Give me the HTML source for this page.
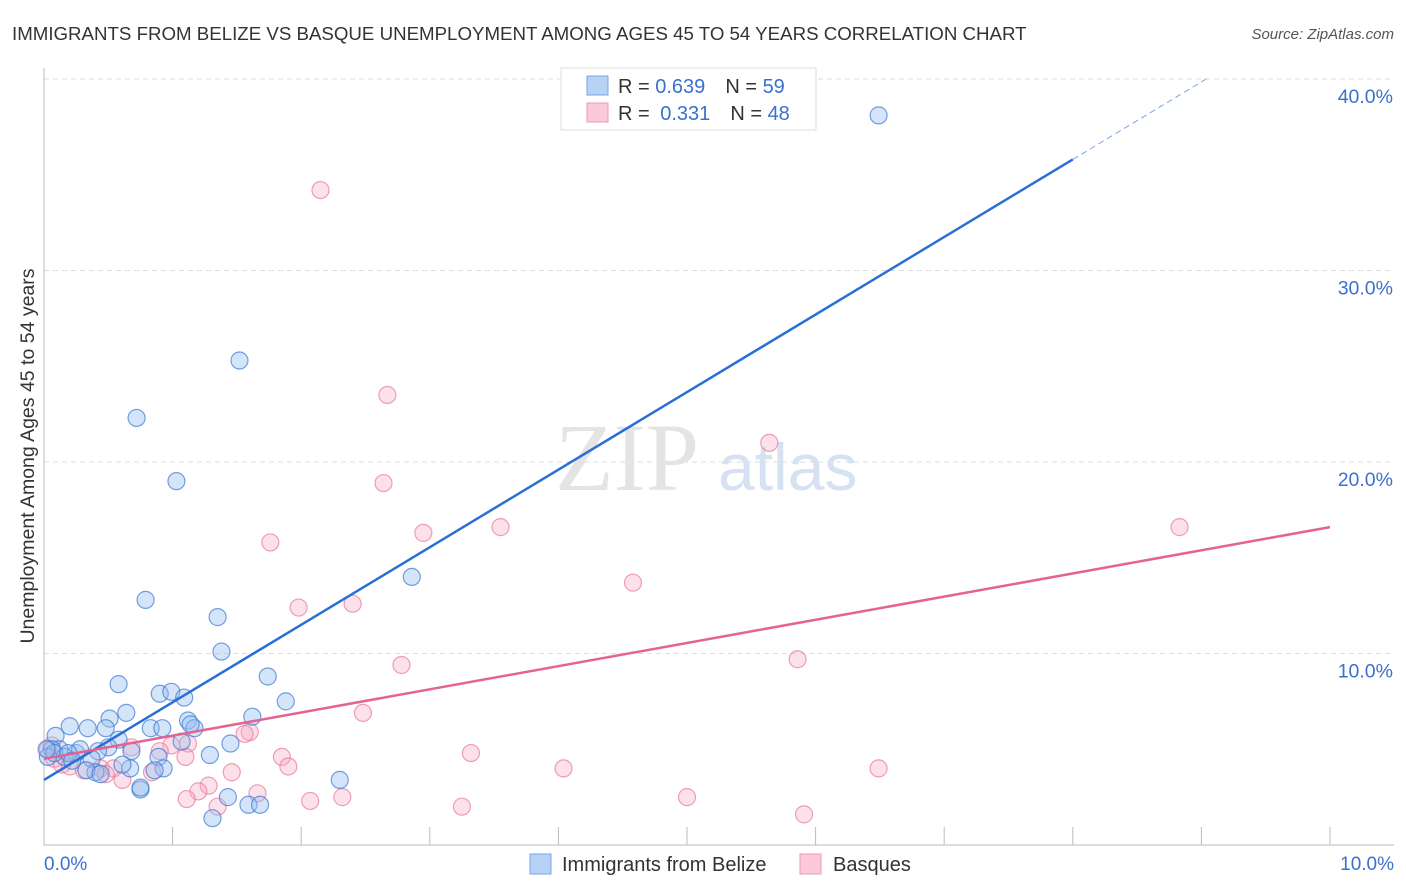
<!DOCTYPE html>
<html><head><meta charset="utf-8"><style>
body{margin:0;background:#fff;font-family:"Liberation Sans",sans-serif}
svg{display:block}
</style></head><body>
<svg id="chart" width="1406" height="892">
<text x="12" y="40" font-size="18.7" fill="#333">IMMIGRANTS FROM BELIZE VS BASQUE UNEMPLOYMENT AMONG AGES 45 TO 54 YEARS CORRELATION CHART</text>
<text x="1394" y="39" font-size="15" fill="#555" font-style="italic" text-anchor="end">Source: ZipAtlas.com</text>
<g id="grid"></g>
<text x="555" y="490" font-size="96" fill="#e4e4e4" font-family="Liberation Serif,serif">ZIP</text>
<text x="718" y="490" font-size="66" fill="#d6e2f2">atlas</text>
<g id="pts"></g>
<g id="lines"></g>
<text x="34" y="456" font-size="19.5" fill="#333" text-anchor="middle" transform="rotate(-90 34 456)">Unemployment Among Ages 45 to 54 years</text>
<text x="44" y="870" font-size="19" fill="#3a70d0">0.0%</text>
<text x="1394" y="870" font-size="19" fill="#3a70d0" text-anchor="end">10.0%</text>
<g>
<rect x="561" y="68" width="255" height="62" fill="#fff" stroke="#ddd"/>
<rect x="587" y="76" width="21" height="19" fill="#b8d2f5" stroke="#7aa5e6"/>
<rect x="587" y="103" width="21" height="19" fill="#fbc9d8" stroke="#ef98b4"/>
<text x="618" y="93" font-size="20" fill="#333">R = <tspan fill="#3a70d0">0.639</tspan><tspan dx="20">N = </tspan><tspan fill="#3a70d0">59</tspan></text>
<text x="618" y="120" font-size="20" fill="#333">R = <tspan fill="#3a70d0" dx="5">0.331</tspan><tspan dx="20">N = </tspan><tspan fill="#3a70d0">48</tspan></text>
</g>
<g>
<rect x="530" y="854" width="21" height="20" fill="#b8d2f5" stroke="#7aa5e6"/>
<text x="562" y="871" font-size="20" fill="#333">Immigrants from Belize</text>
<rect x="800" y="854" width="21" height="20" fill="#fbc9d8" stroke="#ef98b4"/>
<text x="833" y="871" font-size="20" fill="#333">Basques</text>
</g>
</svg>
<script>
const yTicks=[10,20,30,40];
const blueX=[64.9,15.2,7.2,10.3,28.6,7.9,13.5,13.8,17.4,5.8,18.8,9.0,9.9,10.9,6.4,5.1,11.2,11.7,16.2,2.0,3.4,4.8,8.3,9.2,0.9,5.8,14.5,10.7,5.0,4.2,6.8,1.2,0.6,12.9,8.9,2.5,3.7,1.6,0.3,6.7,9.3,8.6,4.0,3.3,4.4,23.0,7.5,14.3,15.9,16.8,13.1,0.8,2.8,1.9,7.5,2.2,0.2,6.1,11.4];
const blueY=[38.1,25.3,22.3,19.0,14.0,12.8,11.9,10.1,8.8,8.4,7.5,7.9,8.0,7.7,6.9,6.6,6.5,6.1,6.7,6.2,6.1,6.1,6.1,6.1,5.7,5.5,5.3,5.4,5.1,4.9,4.9,5.0,5.0,4.7,4.6,4.8,4.5,4.6,4.6,4.0,4.0,3.9,3.8,3.9,3.7,3.4,2.9,2.5,2.1,2.1,1.4,4.8,5.0,4.8,3.0,4.4,5.0,4.2,6.3];
const pinkX=[21.5,26.7,56.4,26.4,88.3,35.5,29.5,17.6,45.8,19.8,24.0,27.8,58.6,24.8,16.0,15.6,11.2,9.9,6.8,9.0,33.2,18.5,11.0,0.3,0.8,1.4,2.0,4.4,3.1,5.4,4.8,6.1,8.4,14.6,19.0,40.4,64.9,12.8,12.0,16.6,23.2,11.1,20.7,50.0,32.5,13.5,59.1,0.6];
const pinkY=[34.2,23.5,21.0,18.9,16.6,16.6,16.3,15.8,13.7,12.4,12.6,9.4,9.7,6.9,5.9,5.8,5.3,5.2,5.1,4.9,4.8,4.6,4.6,5.0,4.5,4.2,4.1,4.0,3.9,4.0,3.7,3.4,3.8,3.8,4.1,4.0,4.0,3.1,2.8,2.7,2.5,2.4,2.3,2.5,2.0,2.0,1.6,5.2];
const blueLine=[0,3.4,8.0,35.8];
const pinkLine=[0,4.5,10,16.6];
const X0=44,X1=1330,Y0=845,Y40=79;
const sx=v=>X0+v/100*(X1-X0);
const sxp=p=>X0+p/10*(X1-X0);
const sy=v=>Y0-v/40*(Y0-Y40);
const NS='http://www.w3.org/2000/svg';
function mk(t,a,parent){const e=document.createElementNS(NS,t);for(const k in a)e.setAttribute(k,a[k]);parent.appendChild(e);return e;}
const grid=document.getElementById('grid');
yTicks.forEach(t=>{
 const l=mk('line',{x1:X0,x2:1394,y1:sy(t),y2:sy(t),stroke:'#ddd','stroke-dasharray':'5,4'},grid);
 
 
 const tx=mk('text',{x:1393,y:sy(t)+24,'font-size':19.5,fill:'#3a70d0','text-anchor':'end'},grid);
 tx.textContent=t.toFixed(1)+'%';
 
 
});
const ax=mk('line',{x1:X0,x2:X0,y1:68,y2:Y0,stroke:'#bbb'},grid);


const bx=mk('line',{x1:X0,x2:1394,y1:Y0,y2:Y0,stroke:'#bbb'},grid);


for(let i=1;i<=10;i++){const t=mk('line',{x1:sxp(i),x2:sxp(i),y1:Y0-18,y2:Y0,stroke:'#bbb'},grid);
 
 }
const pts=document.getElementById('pts');
pinkX.forEach((x,i)=>{const c=mk('circle',{cx:sx(x),cy:sy(pinkY[i]),r:8.5,fill:'rgba(247,170,195,0.35)',stroke:'rgba(232,120,155,0.7)','stroke-width':1.2},pts);
 
 });
blueX.forEach((x,i)=>{const c=mk('circle',{cx:sx(x),cy:sy(blueY[i]),r:8.5,fill:'rgba(150,190,240,0.4)',stroke:'rgba(60,120,210,0.7)','stroke-width':1.2},pts);
 
 });
const lines=document.getElementById('lines');
const bslope=(blueLine[3]-blueLine[1])/(blueLine[2]-blueLine[0]);
const bl=mk('line',{x1:sxp(blueLine[0]),y1:sy(blueLine[1]),x2:sxp(blueLine[2]),y2:sy(blueLine[3]),stroke:'#2a6fd6','stroke-width':2.5},lines);


const bxe=blueLine[0]+(40-blueLine[1])/bslope;
const bd=mk('line',{x1:sxp(blueLine[2]),y1:sy(blueLine[3]),x2:sxp(bxe),y2:sy(40),stroke:'#7aa5e6','stroke-width':1,'stroke-dasharray':'6,4'},lines);


const pl=mk('line',{x1:sxp(pinkLine[0]),y1:sy(pinkLine[1]),x2:sxp(pinkLine[2]),y2:sy(pinkLine[3]),stroke:'#e4638f','stroke-width':2.5},lines);


</script>
</body></html>
